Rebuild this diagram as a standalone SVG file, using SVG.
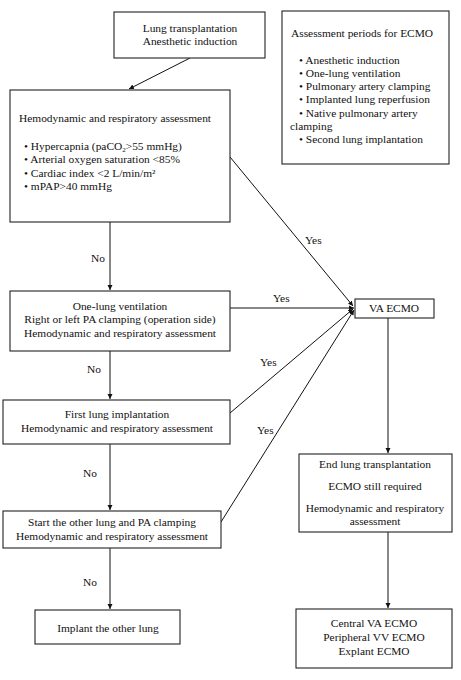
<svg xmlns="http://www.w3.org/2000/svg" width="461" height="680" viewBox="0 0 461 680">
<defs>
<marker id="ah" markerWidth="6" markerHeight="6" refX="5" refY="3" orient="auto" markerUnits="userSpaceOnUse">
<path d="M0,0.5 L5,3 L0,5.5 Z" fill="#111"/>
</marker>
</defs>
<style>
.box{fill:#fff;stroke:#222;stroke-width:1.1}
.t{font-family:"Liberation Serif","Times New Roman",serif;font-size:11.4px;fill:#111}
.c{text-anchor:middle}
.ln{stroke:#111;stroke-width:1;fill:none;marker-end:url(#ah)}
</style>
<rect width="461" height="680" fill="#fff"/>
<g id="connectors">
<line class="ln" x1="190" y1="58" x2="129" y2="89"/>
<line class="ln" x1="230" y1="157" x2="353" y2="306"/>
<line class="ln" x1="110" y1="222" x2="110" y2="290"/>
<line class="ln" x1="230" y1="308" x2="354" y2="308"/>
<line class="ln" x1="110" y1="351" x2="110" y2="399"/>
<line class="ln" x1="230" y1="413" x2="353" y2="309"/>
<line class="ln" x1="110" y1="444" x2="110" y2="510"/>
<line class="ln" x1="221" y1="522" x2="354" y2="310"/>
<line class="ln" x1="110" y1="548" x2="110" y2="609"/>
<line class="ln" x1="388" y1="318" x2="388" y2="453"/>
<line class="ln" x1="388" y1="532" x2="388" y2="608"/>
<text class="t" x="305" y="244">Yes</text>
<text class="t" x="273" y="302">Yes</text>
<text class="t" x="260" y="366">Yes</text>
<text class="t" x="257" y="434">Yes</text>
<text class="t" x="91" y="262">No</text>
<text class="t" x="87" y="373">No</text>
<text class="t" x="83" y="477">No</text>
<text class="t" x="83" y="586">No</text>
</g>
<g id="n1">
<rect class="box" x="114" y="12" width="151" height="46"/>
<text class="t c" x="190" y="32">Lung transplantation</text>
<text class="t c" x="190" y="45">Anesthetic induction</text>
</g>
<g id="n2">
<rect class="box" x="10" y="90" width="220" height="132"/>
<text class="t" x="19" y="122">Hemodynamic and respiratory assessment</text>
<text class="t" x="24" y="150">• Hypercapnia (paCO<tspan font-size="7" dy="2">2</tspan><tspan dy="-2">&gt;55 mmHg)</tspan></text>
<text class="t" x="24" y="163">• Arterial oxygen saturation &lt;85%</text>
<text class="t" x="24" y="177">• Cardiac index &lt;2 L/min/m²</text>
<text class="t" x="24" y="190">• mPAP&gt;40 mmHg</text>
</g>
<g id="n3">
<rect class="box" x="282" y="11" width="167" height="153"/>
<text class="t" x="291" y="37">Assessment periods for ECMO</text>
<text class="t" x="299" y="64">• Anesthetic induction</text>
<text class="t" x="299" y="77">• One-lung ventilation</text>
<text class="t" x="299" y="90">• Pulmonary artery clamping</text>
<text class="t" x="299" y="103">• Implanted lung reperfusion</text>
<text class="t" x="299" y="117">• Native pulmonary artery</text>
<text class="t" x="290" y="130">clamping</text>
<text class="t" x="299" y="143">• Second lung implantation</text>
</g>
<g id="n4">
<rect class="box" x="10" y="291" width="220" height="60"/>
<text class="t c" x="120" y="310">One-lung ventilation</text>
<text class="t c" x="120" y="323">Right or left PA clamping (operation side)</text>
<text class="t c" x="120" y="337">Hemodynamic and respiratory assessment</text>
</g>
<g id="n5">
<rect class="box" x="355" y="299" width="79" height="19"/>
<text class="t c" x="394" y="312">VA ECMO</text>
</g>
<g id="n6">
<rect class="box" x="3" y="400" width="227" height="44"/>
<text class="t c" x="117" y="418">First lung implantation</text>
<text class="t c" x="117" y="432">Hemodynamic and respiratory assessment</text>
</g>
<g id="n7">
<rect class="box" x="3" y="511" width="218" height="37"/>
<text class="t c" x="112" y="526">Start the other lung and PA clamping</text>
<text class="t c" x="112" y="540">Hemodynamic and respiratory assessment</text>
</g>
<g id="n8">
<rect class="box" x="35" y="610" width="145" height="34"/>
<text class="t c" x="108" y="632">Implant the other lung</text>
</g>
<g id="n9">
<rect class="box" x="299" y="454" width="153" height="78"/>
<text class="t c" x="375" y="468">End lung transplantation</text>
<text class="t c" x="375" y="490">ECMO still required</text>
<text class="t c" x="375" y="512">Hemodynamic and respiratory</text>
<text class="t c" x="375" y="525">assessment</text>
</g>
<g id="n10">
<rect class="box" x="296" y="609" width="156" height="59"/>
<text class="t c" x="374" y="627">Central VA ECMO</text>
<text class="t c" x="374" y="641">Peripheral VV ECMO</text>
<text class="t c" x="374" y="655">Explant ECMO</text>
</g>
</svg>
